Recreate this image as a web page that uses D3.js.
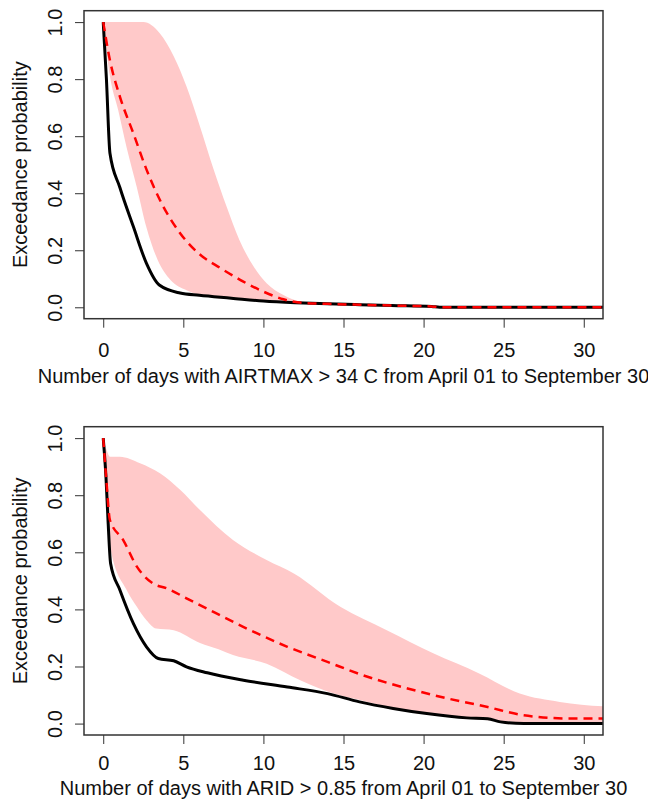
<!DOCTYPE html>
<html>
<head>
<meta charset="utf-8">
<script src="https://cdn.jsdelivr.net/npm/d3@7/dist/d3.min.js"></script>
<style>
  body { margin: 0; background: #fff; }
  text { font-family: "Liberation Sans", Arial, sans-serif; fill: #111; }
</style>
</head>
<body>
<svg id="chart" width="648" height="800"></svg>
<script>
// Exceedance curves (x = days, y = probability)

var xTicks = [0, 5, 10, 15, 20, 25, 30];
var yTicks = [0, 0.2, 0.4, 0.6, 0.8, 1.0];

// top panel: AIRTMAX > 34 C
var airObsX = [0, 0.2, 0.42, 1.04, 1.88, 2.7, 3.5, 4.8, 6, 8, 10, 12, 14, 16, 18, 20.5, 21, 32];
var airObsY = [1.0, 0.8, 0.54, 0.42, 0.283, 0.154, 0.078, 0.05, 0.042, 0.032, 0.022, 0.016, 0.012, 0.009, 0.006, 0.003, 0.0, 0.0];
var airMedX = [0, 0.42, 1.04, 1.88, 2.71, 3.54, 4.8, 6.04, 7.3, 8.75, 10, 11.25, 12.5, 14, 16, 18, 20.5, 21, 32];
var airMedY = [1.0, 0.866, 0.739, 0.61, 0.482, 0.376, 0.26, 0.185, 0.138, 0.09, 0.055, 0.028, 0.015, 0.012, 0.009, 0.006, 0.003, 0.0, 0.0];
var airHiX = [0, 2.5, 3.54, 4.4, 5.2, 6.04, 6.9, 7.7, 8.5, 9.4, 10.2, 11.25, 12.3, 14, 16, 18, 21, 32];
var airHiY = [1, 1, 0.96, 0.88, 0.774, 0.634, 0.482, 0.353, 0.236, 0.142, 0.084, 0.043, 0.02, 0.013, 0.01, 0.007, 0.001, 0];
var airLoX = [0, 0.42, 0.94, 1.46, 2.1, 2.7, 3.4, 4.2, 5.2, 6.5, 8, 10, 12, 14, 16, 18, 21, 32];
var airLoY = [1, 0.81, 0.69, 0.56, 0.42, 0.28, 0.166, 0.096, 0.06, 0.037, 0.028, 0.019, 0.013, 0.01, 0.007, 0.004, 0, 0];

// bottom panel: ARID > 0.85
var aridObsX = [0, 0.17, 0.31, 0.46, 1.04, 1.88, 2.7, 3.44, 4.4, 5.2, 6.5, 8.75, 11.5, 14, 16, 18.1, 20.2, 22.7, 24, 24.8, 26.25, 32];
var aridObsY = [1, 0.865, 0.70, 0.561, 0.468, 0.351, 0.269, 0.228, 0.22, 0.199, 0.178, 0.152, 0.128, 0.105, 0.076, 0.053, 0.035, 0.02, 0.017, 0.006, 0, 0];
var aridMedX = [0, 0.2, 0.42, 1.25, 2.1, 3.1, 3.96, 5.2, 6.46, 8.96, 11.5, 14, 16.5, 19, 21.5, 24, 26.25, 29, 32];
var aridMedY = [1, 0.85, 0.713, 0.643, 0.55, 0.491, 0.474, 0.439, 0.403, 0.333, 0.269, 0.216, 0.164, 0.123, 0.088, 0.058, 0.029, 0.018, 0.018];
var aridHiX = [0, 0.2, 0.42, 1.04, 2.3, 3.54, 4.8, 6.04, 8.1, 10.2, 11.9, 14.8, 17.7, 20.6, 23.5, 26, 28.5, 32];
var aridHiY = [1, 0.96, 0.935, 0.935, 0.912, 0.877, 0.819, 0.748, 0.643, 0.573, 0.526, 0.409, 0.327, 0.246, 0.175, 0.105, 0.076, 0.058];
var aridLoX = [0, 0.3, 0.5, 1.46, 2.1, 2.7, 3.3, 4.4, 6.04, 7.2, 8.1, 10.2, 12.3, 14.4, 16.5, 18.5, 20.6, 22.7, 25, 27, 32];
var aridLoY = [1, 0.72, 0.6, 0.468, 0.409, 0.362, 0.333, 0.327, 0.282, 0.26, 0.24, 0.21, 0.152, 0.105, 0.076, 0.047, 0.029, 0.018, 0.008, 0.002, 0];

var yLabel = "Exceedance probability";

var panels = [
  {top: 10.7, bottom: 318.7, tickY: 38, titleY: 64,
   title: "Number of days with AIRTMAX > 34 C from April 01 to September 30",
   obs: [airObsX, airObsY], med: [airMedX, airMedY], hi: [airHiX, airHiY], lo: [airLoX, airLoY]},
  {top: 426.7, bottom: 735, tickY: 35, titleY: 60,
   title: "Number of days with ARID > 0.85 from April 01 to September 30",
   obs: [aridObsX, aridObsY], med: [aridMedX, aridMedY], hi: [aridHiX, aridHiY], lo: [aridLoX, aridLoY]}
];

var LEFT = 84, RIGHT = 603;
var FONT = 20;

var svg = d3.select("#chart");

var zip = function(a) { return a[0].map(function(v, i) { return [v, a[1][i]]; }); };

panels.forEach(function(p, k) {
  var x = d3.scaleLinear().domain([-1.2, 31.2]).range([LEFT, RIGHT]);
  var y = d3.scaleLinear().domain([-0.04, 1.04]).range([p.bottom, p.top]);
  var g = svg.append("g");

  g.append("clipPath").attr("id", "clip" + k)
    .append("rect").attr("x", LEFT).attr("y", p.top)
    .attr("width", RIGHT - LEFT).attr("height", p.bottom - p.top);

  var line = d3.line().curve(d3.curveMonotoneX)
    .x(function(d) { return x(d[0]); }).y(function(d) { return y(d[1]); });
  var plot = g.append("g").attr("clip-path", "url(#clip" + k + ")");

  // band: upper edge forward, lower edge back
  var upper = line(zip(p.hi));
  var lower = line(zip(p.lo).reverse());
  plot.append("path").attr("d", upper + "L" + lower.slice(1) + "Z").attr("fill", "#ffc9c9");

  plot.append("path").attr("d", line(zip(p.obs)))
    .attr("fill", "none").attr("stroke", "#000").attr("stroke-width", 3);
  plot.append("path").attr("d", line(zip(p.med)))
    .attr("fill", "none").attr("stroke", "#ff0000").attr("stroke-width", 2.5)
    .attr("stroke-dasharray", "9,6");

  // axes
  var xa = g.append("g").attr("transform", "translate(0," + p.bottom + ")")
    .call(d3.axisBottom(x).tickValues(xTicks).tickSize(9).tickSizeOuter(0));
  xa.select(".domain").remove();
  xa.selectAll("line").attr("stroke", "#333");
  xa.selectAll("text").attr("y", p.tickY).attr("dy", 0)
    .style("font-size", FONT + "px").style("font-family", "Liberation Sans, Arial, sans-serif");

  var ya = g.append("g").attr("transform", "translate(" + LEFT + ",0)")
    .call(d3.axisLeft(y).tickValues(yTicks).tickSize(9).tickSizeOuter(0).tickFormat(d3.format(".1f")));
  ya.select(".domain").remove();
  ya.selectAll("line").attr("stroke", "#333");
  ya.selectAll("text").attr("x", 0).attr("dy", 0)
    .attr("transform", "translate(-22,0) rotate(-90)")
    .attr("text-anchor", "middle")
    .style("font-size", FONT + "px").style("font-family", "Liberation Sans, Arial, sans-serif");

  g.append("rect").attr("x", LEFT).attr("y", p.top)
    .attr("width", RIGHT - LEFT).attr("height", p.bottom - p.top)
    .attr("fill", "none").attr("stroke", "#333").attr("stroke-width", 1.5);

  g.append("text").attr("x", (LEFT + RIGHT) / 2).attr("y", p.bottom + p.titleY)
    .attr("text-anchor", "middle").style("font-size", FONT + "px").text(p.title);
  g.append("text")
    .attr("transform", "translate(27," + (p.top + p.bottom) / 2 + ") rotate(-90)")
    .attr("text-anchor", "middle").style("font-size", FONT + "px").text(yLabel);
});
</script>
</body>
</html>
